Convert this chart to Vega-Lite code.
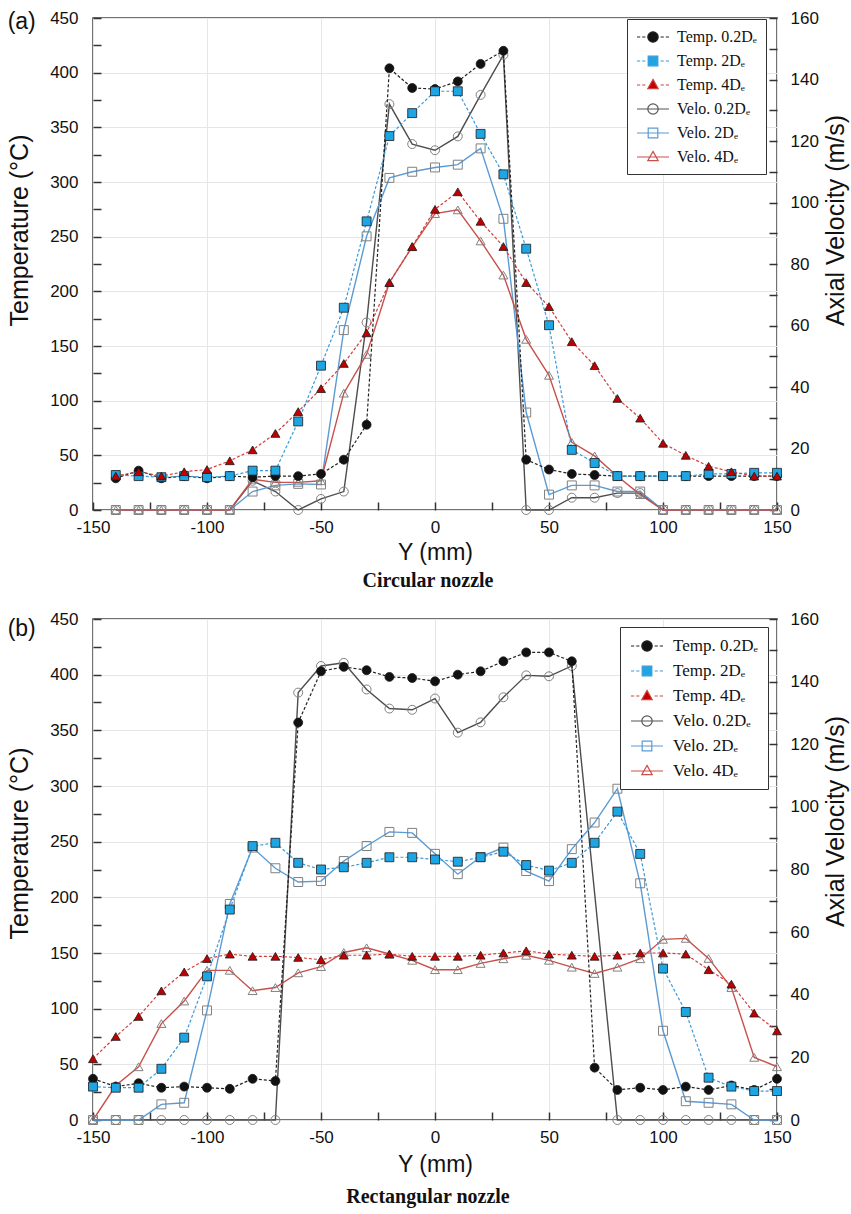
{
"$schema": "https://vega.github.io/schema/vega-lite/v6.json",
"padding": {"left": 6, "top": 8, "right": 0, "bottom": 2},
"config": {"view": {"stroke": "#444", "strokeWidth": 1.5}, "font": "Liberation Sans", "axis": {"labelFont": "Liberation Sans", "titleFont": "Liberation Sans"}},
"datasets": {
"a": [
{"series":"Temp. 0.2Dₑ","pos":-140,"value":29},{"series":"Temp. 0.2Dₑ","pos":-130,"value":36},{"series":"Temp. 0.2Dₑ","pos":-120,"value":29},{"series":"Temp. 0.2Dₑ","pos":-110,"value":31},{"series":"Temp. 0.2Dₑ","pos":-100,"value":29},{"series":"Temp. 0.2Dₑ","pos":-90,"value":31},{"series":"Temp. 0.2Dₑ","pos":-80,"value":30},{"series":"Temp. 0.2Dₑ","pos":-70,"value":31},{"series":"Temp. 0.2Dₑ","pos":-60,"value":31},{"series":"Temp. 0.2Dₑ","pos":-50,"value":33},{"series":"Temp. 0.2Dₑ","pos":-40,"value":46},{"series":"Temp. 0.2Dₑ","pos":-30,"value":78},{"series":"Temp. 0.2Dₑ","pos":-20,"value":404},{"series":"Temp. 0.2Dₑ","pos":-10,"value":386},{"series":"Temp. 0.2Dₑ","pos":0,"value":385},{"series":"Temp. 0.2Dₑ","pos":10,"value":392},{"series":"Temp. 0.2Dₑ","pos":20,"value":408},{"series":"Temp. 0.2Dₑ","pos":30,"value":420},{"series":"Temp. 0.2Dₑ","pos":40,"value":46},{"series":"Temp. 0.2Dₑ","pos":50,"value":37},{"series":"Temp. 0.2Dₑ","pos":60,"value":33},{"series":"Temp. 0.2Dₑ","pos":70,"value":32},{"series":"Temp. 0.2Dₑ","pos":80,"value":31},{"series":"Temp. 0.2Dₑ","pos":90,"value":31},{"series":"Temp. 0.2Dₑ","pos":100,"value":31},{"series":"Temp. 0.2Dₑ","pos":110,"value":31},{"series":"Temp. 0.2Dₑ","pos":120,"value":31},{"series":"Temp. 0.2Dₑ","pos":130,"value":31},{"series":"Temp. 0.2Dₑ","pos":140,"value":31},{"series":"Temp. 0.2Dₑ","pos":150,"value":31},
{"series":"Temp. 2Dₑ","pos":-140,"value":32},{"series":"Temp. 2Dₑ","pos":-130,"value":31},{"series":"Temp. 2Dₑ","pos":-120,"value":30},{"series":"Temp. 2Dₑ","pos":-110,"value":31},{"series":"Temp. 2Dₑ","pos":-100,"value":30},{"series":"Temp. 2Dₑ","pos":-90,"value":31},{"series":"Temp. 2Dₑ","pos":-80,"value":36},{"series":"Temp. 2Dₑ","pos":-70,"value":36},{"series":"Temp. 2Dₑ","pos":-60,"value":81},{"series":"Temp. 2Dₑ","pos":-50,"value":132},{"series":"Temp. 2Dₑ","pos":-40,"value":185},{"series":"Temp. 2Dₑ","pos":-30,"value":264},{"series":"Temp. 2Dₑ","pos":-20,"value":342},{"series":"Temp. 2Dₑ","pos":-10,"value":363},{"series":"Temp. 2Dₑ","pos":0,"value":383},{"series":"Temp. 2Dₑ","pos":10,"value":383},{"series":"Temp. 2Dₑ","pos":20,"value":344},{"series":"Temp. 2Dₑ","pos":30,"value":307},{"series":"Temp. 2Dₑ","pos":40,"value":239},{"series":"Temp. 2Dₑ","pos":50,"value":169},{"series":"Temp. 2Dₑ","pos":60,"value":55},{"series":"Temp. 2Dₑ","pos":70,"value":43},{"series":"Temp. 2Dₑ","pos":80,"value":31},{"series":"Temp. 2Dₑ","pos":90,"value":31},{"series":"Temp. 2Dₑ","pos":100,"value":31},{"series":"Temp. 2Dₑ","pos":110,"value":31},{"series":"Temp. 2Dₑ","pos":120,"value":33},{"series":"Temp. 2Dₑ","pos":130,"value":33},{"series":"Temp. 2Dₑ","pos":140,"value":34},{"series":"Temp. 2Dₑ","pos":150,"value":34},
{"series":"Temp. 4Dₑ","pos":-140,"value":31},{"series":"Temp. 4Dₑ","pos":-130,"value":35},{"series":"Temp. 4Dₑ","pos":-120,"value":31},{"series":"Temp. 4Dₑ","pos":-110,"value":35},{"series":"Temp. 4Dₑ","pos":-100,"value":37},{"series":"Temp. 4Dₑ","pos":-90,"value":45},{"series":"Temp. 4Dₑ","pos":-80,"value":55},{"series":"Temp. 4Dₑ","pos":-70,"value":70},{"series":"Temp. 4Dₑ","pos":-60,"value":90},{"series":"Temp. 4Dₑ","pos":-50,"value":111},{"series":"Temp. 4Dₑ","pos":-40,"value":134},{"series":"Temp. 4Dₑ","pos":-30,"value":162},{"series":"Temp. 4Dₑ","pos":-20,"value":208},{"series":"Temp. 4Dₑ","pos":-10,"value":241},{"series":"Temp. 4Dₑ","pos":0,"value":275},{"series":"Temp. 4Dₑ","pos":10,"value":291},{"series":"Temp. 4Dₑ","pos":20,"value":264},{"series":"Temp. 4Dₑ","pos":30,"value":241},{"series":"Temp. 4Dₑ","pos":40,"value":208},{"series":"Temp. 4Dₑ","pos":50,"value":186},{"series":"Temp. 4Dₑ","pos":60,"value":154},{"series":"Temp. 4Dₑ","pos":70,"value":132},{"series":"Temp. 4Dₑ","pos":80,"value":102},{"series":"Temp. 4Dₑ","pos":90,"value":84},{"series":"Temp. 4Dₑ","pos":100,"value":61},{"series":"Temp. 4Dₑ","pos":110,"value":50},{"series":"Temp. 4Dₑ","pos":120,"value":40},{"series":"Temp. 4Dₑ","pos":130,"value":35},{"series":"Temp. 4Dₑ","pos":140,"value":31},{"series":"Temp. 4Dₑ","pos":150,"value":31},
{"series":"Velo. 0.2Dₑ","pos":-140,"value":0},{"series":"Velo. 0.2Dₑ","pos":-130,"value":0},{"series":"Velo. 0.2Dₑ","pos":-120,"value":0},{"series":"Velo. 0.2Dₑ","pos":-110,"value":0},{"series":"Velo. 0.2Dₑ","pos":-100,"value":0},{"series":"Velo. 0.2Dₑ","pos":-90,"value":0},{"series":"Velo. 0.2Dₑ","pos":-80,"value":9.5},{"series":"Velo. 0.2Dₑ","pos":-70,"value":6},{"series":"Velo. 0.2Dₑ","pos":-60,"value":0},{"series":"Velo. 0.2Dₑ","pos":-50,"value":3.6},{"series":"Velo. 0.2Dₑ","pos":-40,"value":6},{"series":"Velo. 0.2Dₑ","pos":-30,"value":61},{"series":"Velo. 0.2Dₑ","pos":-20,"value":132},{"series":"Velo. 0.2Dₑ","pos":-10,"value":119},{"series":"Velo. 0.2Dₑ","pos":0,"value":117},{"series":"Velo. 0.2Dₑ","pos":10,"value":121.5},{"series":"Velo. 0.2Dₑ","pos":20,"value":135},{"series":"Velo. 0.2Dₑ","pos":30,"value":148},{"series":"Velo. 0.2Dₑ","pos":40,"value":0},{"series":"Velo. 0.2Dₑ","pos":50,"value":0},{"series":"Velo. 0.2Dₑ","pos":60,"value":4},{"series":"Velo. 0.2Dₑ","pos":70,"value":4},{"series":"Velo. 0.2Dₑ","pos":80,"value":5.5},{"series":"Velo. 0.2Dₑ","pos":90,"value":5.5},{"series":"Velo. 0.2Dₑ","pos":100,"value":0},{"series":"Velo. 0.2Dₑ","pos":110,"value":0},{"series":"Velo. 0.2Dₑ","pos":120,"value":0},{"series":"Velo. 0.2Dₑ","pos":130,"value":0},{"series":"Velo. 0.2Dₑ","pos":140,"value":0},{"series":"Velo. 0.2Dₑ","pos":150,"value":0},
{"series":"Velo. 2Dₑ","pos":-140,"value":0},{"series":"Velo. 2Dₑ","pos":-130,"value":0},{"series":"Velo. 2Dₑ","pos":-120,"value":0},{"series":"Velo. 2Dₑ","pos":-110,"value":0},{"series":"Velo. 2Dₑ","pos":-100,"value":0},{"series":"Velo. 2Dₑ","pos":-90,"value":0},{"series":"Velo. 2Dₑ","pos":-80,"value":6},{"series":"Velo. 2Dₑ","pos":-70,"value":8},{"series":"Velo. 2Dₑ","pos":-60,"value":8.5},{"series":"Velo. 2Dₑ","pos":-50,"value":8.3},{"series":"Velo. 2Dₑ","pos":-40,"value":58.5},{"series":"Velo. 2Dₑ","pos":-30,"value":89},{"series":"Velo. 2Dₑ","pos":-20,"value":108},{"series":"Velo. 2Dₑ","pos":-10,"value":110},{"series":"Velo. 2Dₑ","pos":0,"value":111.4},{"series":"Velo. 2Dₑ","pos":10,"value":112.3},{"series":"Velo. 2Dₑ","pos":20,"value":117.6},{"series":"Velo. 2Dₑ","pos":30,"value":94.7},{"series":"Velo. 2Dₑ","pos":40,"value":31.7},{"series":"Velo. 2Dₑ","pos":50,"value":5},{"series":"Velo. 2Dₑ","pos":60,"value":8},{"series":"Velo. 2Dₑ","pos":70,"value":8},{"series":"Velo. 2Dₑ","pos":80,"value":6},{"series":"Velo. 2Dₑ","pos":90,"value":6},{"series":"Velo. 2Dₑ","pos":100,"value":0},{"series":"Velo. 2Dₑ","pos":110,"value":0},{"series":"Velo. 2Dₑ","pos":120,"value":0},{"series":"Velo. 2Dₑ","pos":130,"value":0},{"series":"Velo. 2Dₑ","pos":140,"value":0},{"series":"Velo. 2Dₑ","pos":150,"value":0},
{"series":"Velo. 4Dₑ","pos":-140,"value":0},{"series":"Velo. 4Dₑ","pos":-130,"value":0},{"series":"Velo. 4Dₑ","pos":-120,"value":0},{"series":"Velo. 4Dₑ","pos":-110,"value":0},{"series":"Velo. 4Dₑ","pos":-100,"value":0},{"series":"Velo. 4Dₑ","pos":-90,"value":0},{"series":"Velo. 4Dₑ","pos":-80,"value":10},{"series":"Velo. 4Dₑ","pos":-70,"value":9},{"series":"Velo. 4Dₑ","pos":-60,"value":9},{"series":"Velo. 4Dₑ","pos":-50,"value":9.5},{"series":"Velo. 4Dₑ","pos":-40,"value":38},{"series":"Velo. 4Dₑ","pos":-30,"value":50.6},{"series":"Velo. 4Dₑ","pos":-20,"value":74},{"series":"Velo. 4Dₑ","pos":-10,"value":85.6},{"series":"Velo. 4Dₑ","pos":0,"value":96.4},{"series":"Velo. 4Dₑ","pos":10,"value":97.6},{"series":"Velo. 4Dₑ","pos":20,"value":87.5},{"series":"Velo. 4Dₑ","pos":30,"value":76.4},{"series":"Velo. 4Dₑ","pos":40,"value":55.5},{"series":"Velo. 4Dₑ","pos":50,"value":43.8},{"series":"Velo. 4Dₑ","pos":60,"value":22},{"series":"Velo. 4Dₑ","pos":70,"value":17.6},{"series":"Velo. 4Dₑ","pos":80,"value":11},{"series":"Velo. 4Dₑ","pos":90,"value":5},{"series":"Velo. 4Dₑ","pos":100,"value":0},{"series":"Velo. 4Dₑ","pos":110,"value":0},{"series":"Velo. 4Dₑ","pos":120,"value":0},{"series":"Velo. 4Dₑ","pos":130,"value":0},{"series":"Velo. 4Dₑ","pos":140,"value":0},{"series":"Velo. 4Dₑ","pos":150,"value":0}
],
"b": [
{"series":"Temp. 0.2Dₑ","pos":-150,"value":37},{"series":"Temp. 0.2Dₑ","pos":-140,"value":30},{"series":"Temp. 0.2Dₑ","pos":-130,"value":33},{"series":"Temp. 0.2Dₑ","pos":-120,"value":29},{"series":"Temp. 0.2Dₑ","pos":-110,"value":30},{"series":"Temp. 0.2Dₑ","pos":-100,"value":29},{"series":"Temp. 0.2Dₑ","pos":-90,"value":28},{"series":"Temp. 0.2Dₑ","pos":-80,"value":37},{"series":"Temp. 0.2Dₑ","pos":-70,"value":35},{"series":"Temp. 0.2Dₑ","pos":-60,"value":357},{"series":"Temp. 0.2Dₑ","pos":-50,"value":403},{"series":"Temp. 0.2Dₑ","pos":-40,"value":407},{"series":"Temp. 0.2Dₑ","pos":-30,"value":404},{"series":"Temp. 0.2Dₑ","pos":-20,"value":398},{"series":"Temp. 0.2Dₑ","pos":-10,"value":397},{"series":"Temp. 0.2Dₑ","pos":0,"value":394},{"series":"Temp. 0.2Dₑ","pos":10,"value":400},{"series":"Temp. 0.2Dₑ","pos":20,"value":403},{"series":"Temp. 0.2Dₑ","pos":30,"value":412},{"series":"Temp. 0.2Dₑ","pos":40,"value":420},{"series":"Temp. 0.2Dₑ","pos":50,"value":420},{"series":"Temp. 0.2Dₑ","pos":60,"value":412},{"series":"Temp. 0.2Dₑ","pos":70,"value":47},{"series":"Temp. 0.2Dₑ","pos":80,"value":27},{"series":"Temp. 0.2Dₑ","pos":90,"value":29},{"series":"Temp. 0.2Dₑ","pos":100,"value":27},{"series":"Temp. 0.2Dₑ","pos":110,"value":30},{"series":"Temp. 0.2Dₑ","pos":120,"value":27},{"series":"Temp. 0.2Dₑ","pos":130,"value":31},{"series":"Temp. 0.2Dₑ","pos":140,"value":27},{"series":"Temp. 0.2Dₑ","pos":150,"value":37},
{"series":"Temp. 2Dₑ","pos":-150,"value":30},{"series":"Temp. 2Dₑ","pos":-140,"value":29},{"series":"Temp. 2Dₑ","pos":-130,"value":29},{"series":"Temp. 2Dₑ","pos":-120,"value":46},{"series":"Temp. 2Dₑ","pos":-110,"value":74},{"series":"Temp. 2Dₑ","pos":-100,"value":129},{"series":"Temp. 2Dₑ","pos":-90,"value":189},{"series":"Temp. 2Dₑ","pos":-80,"value":246},{"series":"Temp. 2Dₑ","pos":-70,"value":249},{"series":"Temp. 2Dₑ","pos":-60,"value":231},{"series":"Temp. 2Dₑ","pos":-50,"value":225},{"series":"Temp. 2Dₑ","pos":-40,"value":227},{"series":"Temp. 2Dₑ","pos":-30,"value":231},{"series":"Temp. 2Dₑ","pos":-20,"value":236},{"series":"Temp. 2Dₑ","pos":-10,"value":236},{"series":"Temp. 2Dₑ","pos":0,"value":234},{"series":"Temp. 2Dₑ","pos":10,"value":232},{"series":"Temp. 2Dₑ","pos":20,"value":236},{"series":"Temp. 2Dₑ","pos":30,"value":241},{"series":"Temp. 2Dₑ","pos":40,"value":229},{"series":"Temp. 2Dₑ","pos":50,"value":224},{"series":"Temp. 2Dₑ","pos":60,"value":231},{"series":"Temp. 2Dₑ","pos":70,"value":249},{"series":"Temp. 2Dₑ","pos":80,"value":277},{"series":"Temp. 2Dₑ","pos":90,"value":239},{"series":"Temp. 2Dₑ","pos":100,"value":136},{"series":"Temp. 2Dₑ","pos":110,"value":97},{"series":"Temp. 2Dₑ","pos":120,"value":38},{"series":"Temp. 2Dₑ","pos":130,"value":30},{"series":"Temp. 2Dₑ","pos":140,"value":26},{"series":"Temp. 2Dₑ","pos":150,"value":26},
{"series":"Temp. 4Dₑ","pos":-150,"value":55},{"series":"Temp. 4Dₑ","pos":-140,"value":75},{"series":"Temp. 4Dₑ","pos":-130,"value":93},{"series":"Temp. 4Dₑ","pos":-120,"value":116},{"series":"Temp. 4Dₑ","pos":-110,"value":133},{"series":"Temp. 4Dₑ","pos":-100,"value":145},{"series":"Temp. 4Dₑ","pos":-90,"value":149},{"series":"Temp. 4Dₑ","pos":-80,"value":147},{"series":"Temp. 4Dₑ","pos":-70,"value":147},{"series":"Temp. 4Dₑ","pos":-60,"value":146},{"series":"Temp. 4Dₑ","pos":-50,"value":144},{"series":"Temp. 4Dₑ","pos":-40,"value":148},{"series":"Temp. 4Dₑ","pos":-30,"value":148},{"series":"Temp. 4Dₑ","pos":-20,"value":149},{"series":"Temp. 4Dₑ","pos":-10,"value":147},{"series":"Temp. 4Dₑ","pos":0,"value":147},{"series":"Temp. 4Dₑ","pos":10,"value":147},{"series":"Temp. 4Dₑ","pos":20,"value":148},{"series":"Temp. 4Dₑ","pos":30,"value":150},{"series":"Temp. 4Dₑ","pos":40,"value":152},{"series":"Temp. 4Dₑ","pos":50,"value":149},{"series":"Temp. 4Dₑ","pos":60,"value":148},{"series":"Temp. 4Dₑ","pos":70,"value":147},{"series":"Temp. 4Dₑ","pos":80,"value":148},{"series":"Temp. 4Dₑ","pos":90,"value":150},{"series":"Temp. 4Dₑ","pos":100,"value":150},{"series":"Temp. 4Dₑ","pos":110,"value":149},{"series":"Temp. 4Dₑ","pos":120,"value":135},{"series":"Temp. 4Dₑ","pos":130,"value":122},{"series":"Temp. 4Dₑ","pos":140,"value":96},{"series":"Temp. 4Dₑ","pos":150,"value":80},
{"series":"Velo. 0.2Dₑ","pos":-150,"value":0},{"series":"Velo. 0.2Dₑ","pos":-140,"value":0},{"series":"Velo. 0.2Dₑ","pos":-130,"value":0},{"series":"Velo. 0.2Dₑ","pos":-120,"value":0},{"series":"Velo. 0.2Dₑ","pos":-110,"value":0},{"series":"Velo. 0.2Dₑ","pos":-100,"value":0},{"series":"Velo. 0.2Dₑ","pos":-90,"value":0},{"series":"Velo. 0.2Dₑ","pos":-80,"value":0},{"series":"Velo. 0.2Dₑ","pos":-70,"value":0},{"series":"Velo. 0.2Dₑ","pos":-60,"value":136.5},{"series":"Velo. 0.2Dₑ","pos":-50,"value":145},{"series":"Velo. 0.2Dₑ","pos":-40,"value":146},{"series":"Velo. 0.2Dₑ","pos":-30,"value":137.5},{"series":"Velo. 0.2Dₑ","pos":-20,"value":131.4},{"series":"Velo. 0.2Dₑ","pos":-10,"value":131},{"series":"Velo. 0.2Dₑ","pos":0,"value":134.6},{"series":"Velo. 0.2Dₑ","pos":10,"value":123.7},{"series":"Velo. 0.2Dₑ","pos":20,"value":127},{"series":"Velo. 0.2Dₑ","pos":30,"value":135},{"series":"Velo. 0.2Dₑ","pos":40,"value":142},{"series":"Velo. 0.2Dₑ","pos":50,"value":141.7},{"series":"Velo. 0.2Dₑ","pos":60,"value":145},{"series":"Velo. 0.2Dₑ","pos":80,"value":0},{"series":"Velo. 0.2Dₑ","pos":90,"value":0},{"series":"Velo. 0.2Dₑ","pos":100,"value":0},{"series":"Velo. 0.2Dₑ","pos":110,"value":0},{"series":"Velo. 0.2Dₑ","pos":120,"value":0},{"series":"Velo. 0.2Dₑ","pos":130,"value":0},{"series":"Velo. 0.2Dₑ","pos":140,"value":0},{"series":"Velo. 0.2Dₑ","pos":150,"value":0},
{"series":"Velo. 2Dₑ","pos":-150,"value":0},{"series":"Velo. 2Dₑ","pos":-140,"value":0},{"series":"Velo. 2Dₑ","pos":-130,"value":0},{"series":"Velo. 2Dₑ","pos":-120,"value":5},{"series":"Velo. 2Dₑ","pos":-110,"value":5.5},{"series":"Velo. 2Dₑ","pos":-100,"value":35},{"series":"Velo. 2Dₑ","pos":-90,"value":69},{"series":"Velo. 2Dₑ","pos":-80,"value":87},{"series":"Velo. 2Dₑ","pos":-70,"value":80.4},{"series":"Velo. 2Dₑ","pos":-60,"value":76},{"series":"Velo. 2Dₑ","pos":-50,"value":76.3},{"series":"Velo. 2Dₑ","pos":-40,"value":82.7},{"series":"Velo. 2Dₑ","pos":-30,"value":87.5},{"series":"Velo. 2Dₑ","pos":-20,"value":92},{"series":"Velo. 2Dₑ","pos":-10,"value":91.7},{"series":"Velo. 2Dₑ","pos":0,"value":85},{"series":"Velo. 2Dₑ","pos":10,"value":78.5},{"series":"Velo. 2Dₑ","pos":20,"value":84},{"series":"Velo. 2Dₑ","pos":30,"value":87},{"series":"Velo. 2Dₑ","pos":40,"value":79.5},{"series":"Velo. 2Dₑ","pos":50,"value":76.3},{"series":"Velo. 2Dₑ","pos":60,"value":86.5},{"series":"Velo. 2Dₑ","pos":70,"value":95},{"series":"Velo. 2Dₑ","pos":80,"value":105.8},{"series":"Velo. 2Dₑ","pos":90,"value":75.6},{"series":"Velo. 2Dₑ","pos":100,"value":28.5},{"series":"Velo. 2Dₑ","pos":110,"value":6},{"series":"Velo. 2Dₑ","pos":120,"value":5.5},{"series":"Velo. 2Dₑ","pos":130,"value":5},{"series":"Velo. 2Dₑ","pos":140,"value":0},{"series":"Velo. 2Dₑ","pos":150,"value":0},
{"series":"Velo. 4Dₑ","pos":-150,"value":0},{"series":"Velo. 4Dₑ","pos":-140,"value":11},{"series":"Velo. 4Dₑ","pos":-130,"value":17},{"series":"Velo. 4Dₑ","pos":-120,"value":30.8},{"series":"Velo. 4Dₑ","pos":-110,"value":38},{"series":"Velo. 4Dₑ","pos":-100,"value":47.8},{"series":"Velo. 4Dₑ","pos":-90,"value":47.8},{"series":"Velo. 4Dₑ","pos":-80,"value":41.3},{"series":"Velo. 4Dₑ","pos":-70,"value":42.3},{"series":"Velo. 4Dₑ","pos":-60,"value":47},{"series":"Velo. 4Dₑ","pos":-50,"value":49},{"series":"Velo. 4Dₑ","pos":-40,"value":53.5},{"series":"Velo. 4Dₑ","pos":-30,"value":55},{"series":"Velo. 4Dₑ","pos":-20,"value":53},{"series":"Velo. 4Dₑ","pos":-10,"value":51},{"series":"Velo. 4Dₑ","pos":0,"value":48},{"series":"Velo. 4Dₑ","pos":10,"value":48},{"series":"Velo. 4Dₑ","pos":20,"value":50},{"series":"Velo. 4Dₑ","pos":30,"value":51.5},{"series":"Velo. 4Dₑ","pos":40,"value":52.6},{"series":"Velo. 4Dₑ","pos":50,"value":51},{"series":"Velo. 4Dₑ","pos":60,"value":48.8},{"series":"Velo. 4Dₑ","pos":70,"value":46.8},{"series":"Velo. 4Dₑ","pos":80,"value":48.8},{"series":"Velo. 4Dₑ","pos":90,"value":51.5},{"series":"Velo. 4Dₑ","pos":100,"value":57.7},{"series":"Velo. 4Dₑ","pos":110,"value":58},{"series":"Velo. 4Dₑ","pos":120,"value":51.6},{"series":"Velo. 4Dₑ","pos":130,"value":42.3},{"series":"Velo. 4Dₑ","pos":140,"value":20},{"series":"Velo. 4Dₑ","pos":150,"value":17}
]
},
"spacing": 18,
"vconcat": [
{
"title": {"text": "Circular nozzle", "orient": "bottom", "anchor": "middle", "font": "Liberation Serif", "fontSize": 20, "fontWeight": "bold", "color": "#111", "offset": 6},
"vconcat": [{
"data": {"name": "a"},
"width": 684, "height": 492,
"title": {"text": "(a)", "anchor": "start", "frame": "bounds", "orient": "top", "offset": -25, "font": "Liberation Sans", "fontSize": 23, "fontWeight": "normal", "color": "#111"},
"resolve": {"scale": {"y": "independent", "stroke": "independent", "fill": "independent", "shape": "independent"}},
"layer": [
{
"transform": [{"filter": {"field": "series", "oneOf": ["Velo. 0.2Dₑ", "Velo. 2Dₑ", "Velo. 4Dₑ"]}}],
"encoding": {
"x": {"field": "pos", "type": "quantitative", "scale": {"domain": [-150, 150]}},
"y": {"field": "value", "type": "quantitative", "scale": {"domain": [0, 160]}, "axis": {"orient": "right", "title": "Axial Velocity (m/s)", "titleAngle": 270, "titleBaseline": "top", "titleY": 202, "values": [0,10,20,30,40,50,60,70,80,90,100,110,120,130,140,150,160], "labelExpr": "datum.value % 20 === 0 ? '' + datum.value : ''", "tickSize": -8, "tickColor": "#333", "tickWidth": 1.5, "domain": false, "grid": false, "labelFontSize": 17, "labelPadding": 21, "labelFlush": false, "labelColor": "#111", "titleFontSize": 25, "titleFontWeight": "normal", "titleColor": "#111", "titlePadding": 5}}
},
"layer": [
{"mark": {"type": "line", "strokeWidth": 1.4}, "encoding": {"stroke": {"field": "series", "type": "nominal", "scale": {"domain": ["Velo. 0.2Dₑ", "Velo. 2Dₑ", "Velo. 4Dₑ"], "range": ["#4d4d4d", "#5B9BD5", "#C8504B"]}, "legend": null}}},
{"mark": {"type": "point", "filled": false, "size": 80, "stroke": "#808080", "strokeWidth": 1, "opacity": 1}, "encoding": {"shape": {"field": "series", "type": "nominal", "scale": {"domain": ["Velo. 0.2Dₑ", "Velo. 2Dₑ", "Velo. 4Dₑ"], "range": ["circle", "square", "triangle-up"]}, "legend": null}}}
]
},
{
"transform": [{"filter": {"field": "series", "oneOf": ["Temp. 0.2Dₑ", "Temp. 2Dₑ", "Temp. 4Dₑ"]}}],
"encoding": {
"x": {"field": "pos", "type": "quantitative", "scale": {"domain": [-150, 150]}, "axis": {"title": "Y (mm)", "values": [-150,-125,-100,-75,-50,-25,0,25,50,75,100,125,150], "labelExpr": "datum.value % 50 === 0 ? '' + datum.value : ''", "tickSize": -8, "tickColor": "#333", "tickWidth": 1.5, "domain": false, "grid": true, "gridColor": "#e6e6e6", "gridOpacity": {"condition": {"test": "datum.value % 50 === 0", "value": 1}, "value": 0}, "labelFontSize": 17, "labelPadding": 17, "labelFlush": false, "labelColor": "#111", "titleFontSize": 23, "titleFontWeight": "normal", "titleColor": "#111", "titlePadding": 6}},
"y": {"field": "value", "type": "quantitative", "scale": {"domain": [0, 450]}, "axis": {"orient": "left", "title": "Temperature (°C)", "titleY": 212, "values": [0,25,50,75,100,125,150,175,200,225,250,275,300,325,350,375,400,425,450], "labelExpr": "datum.value % 50 === 0 ? '' + datum.value : ''", "tickSize": -8, "tickColor": "#333", "tickWidth": 1.5, "domain": false, "grid": true, "gridColor": "#e6e6e6", "gridOpacity": {"condition": {"test": "datum.value % 50 === 0", "value": 1}, "value": 0}, "labelFontSize": 17, "labelPadding": 23, "labelFlush": false, "labelColor": "#111", "titleFontSize": 25, "titleFontWeight": "normal", "titleColor": "#111", "titlePadding": 17}}
},
"layer": [
{"mark": {"type": "line", "strokeDash": [3, 2], "strokeWidth": 1.2}, "encoding": {"stroke": {"field": "series", "type": "nominal", "scale": {"domain": ["Temp. 0.2Dₑ", "Temp. 2Dₑ", "Temp. 4Dₑ"], "range": ["#222222", "#3A9AD9", "#D04040"]}, "legend": null}}},
{"mark": {"type": "point", "filled": true, "size": 80, "stroke": "#1a1a1a", "strokeWidth": 0.8, "opacity": 1}, "encoding": {"shape": {"field": "series", "type": "nominal", "scale": {"domain": ["Temp. 0.2Dₑ", "Temp. 2Dₑ", "Temp. 4Dₑ"], "range": ["circle", "square", "triangle-up"]}, "legend": null}, "fill": {"field": "series", "type": "nominal", "scale": {"domain": ["Temp. 0.2Dₑ", "Temp. 2Dₑ", "Temp. 4Dₑ"], "range": ["#111111", "#1EA5E3", "#C00000"]}, "legend": null}}}
]
},
{
"transform": [{"filter": "datum.value < -999"}],
"mark": {"type": "point", "filled": true, "opacity": 1},
"encoding": {
"shape": {"field": "series", "type": "nominal", "scale": {"domain": ["Temp. 0.2Dₑ", "Temp. 2Dₑ", "Temp. 4Dₑ", "Velo. 0.2Dₑ", "Velo. 2Dₑ", "Velo. 4Dₑ"], "range": ["M-1,0H-0.6M-0.35,0H0.05M1.95,0H2.35M2.6,0H3M1.65,0A0.65,0.65,0,1,1,0.35,0A0.65,0.65,0,1,1,1.65,0Z", "M-1,0H-0.6M-0.35,0H0.05M1.95,0H2.35M2.6,0H3M0.4,-0.6H1.6V0.6H0.4Z", "M-1,0H-0.6M-0.35,0H0.05M1.95,0H2.35M2.6,0H3M1,-0.7L1.65,0.45L0.35,0.45Z", "M-1,0H3M1.65,0A0.65,0.65,0,1,1,0.35,0A0.65,0.65,0,1,1,1.65,0Z", "M-1,0H3M0.4,-0.6H1.6V0.6H0.4Z", "M-1,0H3M1,-0.7L1.65,0.45L0.35,0.45Z"]}, "legend": {"title": null, "orient": "none", "legendX": 534, "legendY": 1, "strokeColor": "#333", "fillColor": "#ffffff", "padding": 9, "symbolSize": 256, "symbolStrokeWidth": 1.2, "labelFont": "Liberation Serif", "labelFontSize": 16, "labelColor": "#111", "labelOffset": 23, "rowPadding": 7, "symbolLimit": 0}},
"fill": {"field": "series", "type": "nominal", "scale": {"domain": ["Temp. 0.2Dₑ", "Temp. 2Dₑ", "Temp. 4Dₑ", "Velo. 0.2Dₑ", "Velo. 2Dₑ", "Velo. 4Dₑ"], "range": ["#111111", "#1EA5E3", "#C00000", "#ffffff", "#ffffff", "#ffffff"]}},
"stroke": {"field": "series", "type": "nominal", "scale": {"domain": ["Temp. 0.2Dₑ", "Temp. 2Dₑ", "Temp. 4Dₑ", "Velo. 0.2Dₑ", "Velo. 2Dₑ", "Velo. 4Dₑ"], "range": ["#222222", "#3A9AD9", "#D04040", "#555555", "#5B9BD5", "#C8504B"]}}
}
}
]
}]
},
{
"title": {"text": "Rectangular nozzle", "orient": "bottom", "anchor": "middle", "font": "Liberation Serif", "fontSize": 20, "fontWeight": "bold", "color": "#111", "offset": 10},
"vconcat": [{
"data": {"name": "b"},
"width": 684, "height": 501,
"title": {"text": "(b)", "anchor": "start", "frame": "bounds", "orient": "top", "offset": -31, "font": "Liberation Sans", "fontSize": 23, "fontWeight": "normal", "color": "#111"},
"resolve": {"scale": {"y": "independent", "stroke": "independent", "fill": "independent", "shape": "independent"}},
"layer": [
{
"transform": [{"filter": {"field": "series", "oneOf": ["Velo. 0.2Dₑ", "Velo. 2Dₑ", "Velo. 4Dₑ"]}}],
"encoding": {
"x": {"field": "pos", "type": "quantitative", "scale": {"domain": [-150, 150]}},
"y": {"field": "value", "type": "quantitative", "scale": {"domain": [0, 160]}, "axis": {"orient": "right", "title": "Axial Velocity (m/s)", "titleAngle": 270, "titleBaseline": "top", "titleY": 202, "values": [0,10,20,30,40,50,60,70,80,90,100,110,120,130,140,150,160], "labelExpr": "datum.value % 20 === 0 ? '' + datum.value : ''", "tickSize": -8, "tickColor": "#333", "tickWidth": 1.5, "domain": false, "grid": false, "labelFontSize": 17, "labelPadding": 21, "labelFlush": false, "labelColor": "#111", "titleFontSize": 25, "titleFontWeight": "normal", "titleColor": "#111", "titlePadding": 5}}
},
"layer": [
{"mark": {"type": "line", "strokeWidth": 1.4}, "encoding": {"stroke": {"field": "series", "type": "nominal", "scale": {"domain": ["Velo. 0.2Dₑ", "Velo. 2Dₑ", "Velo. 4Dₑ"], "range": ["#4d4d4d", "#5B9BD5", "#C8504B"]}, "legend": null}}},
{"mark": {"type": "point", "filled": false, "size": 80, "stroke": "#808080", "strokeWidth": 1, "opacity": 1}, "encoding": {"shape": {"field": "series", "type": "nominal", "scale": {"domain": ["Velo. 0.2Dₑ", "Velo. 2Dₑ", "Velo. 4Dₑ"], "range": ["circle", "square", "triangle-up"]}, "legend": null}}}
]
},
{
"transform": [{"filter": {"field": "series", "oneOf": ["Temp. 0.2Dₑ", "Temp. 2Dₑ", "Temp. 4Dₑ"]}}],
"encoding": {
"x": {"field": "pos", "type": "quantitative", "scale": {"domain": [-150, 150]}, "axis": {"title": "Y (mm)", "values": [-150,-125,-100,-75,-50,-25,0,25,50,75,100,125,150], "labelExpr": "datum.value % 50 === 0 ? '' + datum.value : ''", "tickSize": -8, "tickColor": "#333", "tickWidth": 1.5, "domain": false, "grid": true, "gridColor": "#e6e6e6", "gridOpacity": {"condition": {"test": "datum.value % 50 === 0", "value": 1}, "value": 0}, "labelFontSize": 17, "labelPadding": 17, "labelFlush": false, "labelColor": "#111", "titleFontSize": 23, "titleFontWeight": "normal", "titleColor": "#111", "titlePadding": 8}},
"y": {"field": "value", "type": "quantitative", "scale": {"domain": [0, 450]}, "axis": {"orient": "left", "title": "Temperature (°C)", "titleY": 224, "values": [0,25,50,75,100,125,150,175,200,225,250,275,300,325,350,375,400,425,450], "labelExpr": "datum.value % 50 === 0 ? '' + datum.value : ''", "tickSize": -8, "tickColor": "#333", "tickWidth": 1.5, "domain": false, "grid": true, "gridColor": "#e6e6e6", "gridOpacity": {"condition": {"test": "datum.value % 50 === 0", "value": 1}, "value": 0}, "labelFontSize": 17, "labelPadding": 23, "labelFlush": false, "labelColor": "#111", "titleFontSize": 25, "titleFontWeight": "normal", "titleColor": "#111", "titlePadding": 17}}
},
"layer": [
{"mark": {"type": "line", "strokeDash": [3, 2], "strokeWidth": 1.2}, "encoding": {"stroke": {"field": "series", "type": "nominal", "scale": {"domain": ["Temp. 0.2Dₑ", "Temp. 2Dₑ", "Temp. 4Dₑ"], "range": ["#222222", "#3A9AD9", "#D04040"]}, "legend": null}}},
{"mark": {"type": "point", "filled": true, "size": 80, "stroke": "#1a1a1a", "strokeWidth": 0.8, "opacity": 1}, "encoding": {"shape": {"field": "series", "type": "nominal", "scale": {"domain": ["Temp. 0.2Dₑ", "Temp. 2Dₑ", "Temp. 4Dₑ"], "range": ["circle", "square", "triangle-up"]}, "legend": null}, "fill": {"field": "series", "type": "nominal", "scale": {"domain": ["Temp. 0.2Dₑ", "Temp. 2Dₑ", "Temp. 4Dₑ"], "range": ["#111111", "#1EA5E3", "#C00000"]}, "legend": null}}}
]
},
{
"transform": [{"filter": "datum.value < -999"}],
"mark": {"type": "point", "filled": true, "opacity": 1},
"encoding": {
"shape": {"field": "series", "type": "nominal", "scale": {"domain": ["Temp. 0.2Dₑ", "Temp. 2Dₑ", "Temp. 4Dₑ", "Velo. 0.2Dₑ", "Velo. 2Dₑ", "Velo. 4Dₑ"], "range": ["M-1,0H-0.6M-0.35,0H0.05M1.95,0H2.35M2.6,0H3M1.65,0A0.65,0.65,0,1,1,0.35,0A0.65,0.65,0,1,1,1.65,0Z", "M-1,0H-0.6M-0.35,0H0.05M1.95,0H2.35M2.6,0H3M0.4,-0.6H1.6V0.6H0.4Z", "M-1,0H-0.6M-0.35,0H0.05M1.95,0H2.35M2.6,0H3M1,-0.7L1.65,0.45L0.35,0.45Z", "M-1,0H3M1.65,0A0.65,0.65,0,1,1,0.35,0A0.65,0.65,0,1,1,1.65,0Z", "M-1,0H3M0.4,-0.6H1.6V0.6H0.4Z", "M-1,0H3M1,-0.7L1.65,0.45L0.35,0.45Z"]}, "legend": {"title": null, "orient": "none", "legendX": 527, "legendY": 8, "strokeColor": "#333", "fillColor": "#ffffff", "padding": 10, "symbolSize": 256, "symbolStrokeWidth": 1.2, "labelFont": "Liberation Serif", "labelFontSize": 17, "labelColor": "#111", "labelOffset": 25, "rowPadding": 8, "symbolLimit": 0}},
"fill": {"field": "series", "type": "nominal", "scale": {"domain": ["Temp. 0.2Dₑ", "Temp. 2Dₑ", "Temp. 4Dₑ", "Velo. 0.2Dₑ", "Velo. 2Dₑ", "Velo. 4Dₑ"], "range": ["#111111", "#1EA5E3", "#C00000", "#ffffff", "#ffffff", "#ffffff"]}},
"stroke": {"field": "series", "type": "nominal", "scale": {"domain": ["Temp. 0.2Dₑ", "Temp. 2Dₑ", "Temp. 4Dₑ", "Velo. 0.2Dₑ", "Velo. 2Dₑ", "Velo. 4Dₑ"], "range": ["#222222", "#3A9AD9", "#D04040", "#555555", "#5B9BD5", "#C8504B"]}}
}
}
]
}]
}
]
}
